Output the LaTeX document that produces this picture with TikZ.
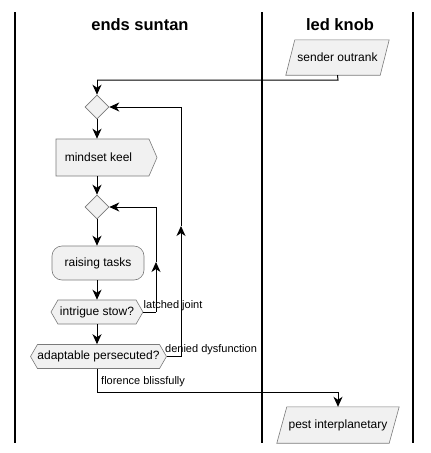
\documentclass[tikz,border=0pt]{standalone}
\usepackage{fontspec}
\setmainfont{Liberation Sans}
\usetikzlibrary{shapes.geometric,shapes.symbols,arrows.meta,backgrounds}
\definecolor{nodefill}{HTML}{F1F1F1}
\definecolor{nodeline}{HTML}{7A7A7A}
\tikzset{
  every picture/.style={x=1pt,y=-1pt},
  base/.style={draw=nodeline,fill=nodefill,line width=0.6pt,font=\fontsize{12}{14}\selectfont,inner sep=0pt},
  paratext/.style={rectangle,font=\fontsize{12}{14}\selectfont,inner sep=0pt},
  paraline/.style={draw=nodeline,fill=nodefill,line width=0.6pt},
  decision/.style={base,diamond,minimum width=24pt,minimum height=24pt},
  keelbox/.style={base,signal,signal to=east,signal from=nowhere,signal pointer angle=133},
  hexbox/.style={base,signal,signal to=east and west,signal pointer angle=120,minimum height=24pt},
  roundbox/.style={base,rectangle,rounded corners=10pt},
  lane/.style={line width=1.4pt},
  title/.style={font=\bfseries\fontsize{16.5}{18}\selectfont},
  flow/.style={line width=1pt,-{Stealth[length=10pt,width=9pt,inset=3pt]}},
  plain/.style={line width=1pt},
  lbl/.style={font=\fontsize{11}{13}\selectfont,inner sep=0pt,anchor=west}
}
\begin{document}
\begin{tikzpicture}
\useasboundingbox (0,0) rectangle (431,453);
\draw[lane] (15,12) -- (15,443);
\draw[lane] (262,12) -- (262,443);
\draw[lane] (413,12) -- (413,443);
\node[title] (t1) at (140,25) {ends suntan};
\node[title] (t2) at (340,25) {led knob};

\node[paratext,minimum width=103pt,minimum height=35pt] (sender) at (337.5,57.5) {sender outrank};
\node[decision] (d1) at (97,107) {};
\node[keelbox,minimum width=101pt,minimum height=37pt] (keel) at (102.5,157.5) {\hspace*{-8pt}mindset keel};
\node[decision] (d2) at (97,207) {};
\node[roundbox,minimum width=92pt,minimum height=34pt] (raise) at (98,263) {raising tasks};
\node[hexbox,minimum width=92pt] (intr) at (97,312) {intrigue stow?};
\node[hexbox,minimum width=135pt] (adapt) at (98.5,356.5) {adaptable persecuted?};
\node[paratext,minimum width=122pt,minimum height=36pt] (pest) at (338,425) {pest interplanetary};

\begin{pgfonlayer}{background}
\draw[paraline] ([xshift=9pt]sender.north west) -- (sender.north east)
  -- ([xshift=-9pt]sender.south east) -- (sender.south west) -- cycle;
\draw[paraline] ([xshift=10pt]pest.north west) -- (pest.north east)
  -- ([xshift=-10pt]pest.south east) -- (pest.south west) -- cycle;
\end{pgfonlayer}

\coordinate (c1) at (338,80);
\coordinate (c2) at (97,80);
\draw[plain] (sender.south) -- (c1) -- (c2);
\draw[flow] (c2) -- (d1.north);
\draw[flow] (d1.south) -- (keel.north -| d1.south);
\draw[flow] (keel.south -| d1.south) -- (d2.north);
\draw[flow] (d2.south) -- (raise.north -| d2.south);
\draw[flow] (raise.south -| d2.south) -- (intr.north);
\draw[flow] (intr.south) -- (adapt.north -| intr.south);

\coordinate (la) at (156,312);
\coordinate (lb) at (156,262);
\draw[plain] (intr.east) -- (la);
\draw[flow] (la) -- (lb);
\draw[flow] (lb) |- (d2.east);
\node[lbl] (ljt) at (143.5,305.5) {latched joint};

\coordinate (oa) at (181,356.5);
\coordinate (ob) at (181,226);
\draw[plain] (adapt.east) -- (oa);
\draw[flow] (oa) -- (ob);
\draw[flow] (ob) |- (d1.east);
\node[lbl] (ddf) at (165,350) {denied dysfunction};

\coordinate (fa) at (97,392);
\coordinate (fb) at (338,392);
\draw[plain] (adapt.south -| intr.south) -- (fa) -- (fb);
\draw[flow] (fb) -- (pest.north);
\node[lbl] (fbl) at (101,382) {florence blissfully};
\end{tikzpicture}
\end{document}
